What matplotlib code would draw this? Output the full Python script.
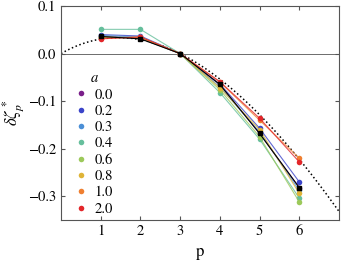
import numpy as np
import matplotlib
matplotlib.use("Agg")
import matplotlib.pyplot as plt

plt.rcParams['font.family'] = 'STIXGeneral'
plt.rcParams['mathtext.fontset'] = 'stix'

p = [1, 2, 3, 4, 5, 6]
a_labels = ['0.0', '0.2', '0.3', '0.4', '0.6', '0.8', '1.0', '2.0']
colors = ['#7a1f8a', '#3b44c9', '#4b8fd6', '#66bf9c', '#9cc95a', '#dfb437', '#ef7f30', '#e3262a']

dz_00 = [0.037, 0.032, 0.0, -0.065, -0.168, -0.282]
dz_02 = [0.040, 0.037, 0.0, -0.064, -0.157, -0.270]
dz_03 = [0.038, 0.035, 0.0, -0.070, -0.165, -0.288]
dz_04 = [0.051, 0.051, 0.0, -0.082, -0.180, -0.304]
dz_06 = [0.035, 0.033, 0.0, -0.076, -0.175, -0.312]
dz_08 = [0.034, 0.034, 0.0, -0.072, -0.160, -0.294]
dz_10 = [0.032, 0.035, 0.0, -0.060, -0.140, -0.220]
dz_20 = [0.031, 0.035, 0.0, -0.059, -0.136, -0.228]
series = [dz_00, dz_02, dz_03, dz_04, dz_06, dz_08, dz_10, dz_20]

# reference data (black squares)
dz_ref = [0.036, 0.031, 0.0, -0.065, -0.168, -0.282]

# She-Leveque model
pp = np.linspace(0, 7, 200)
sl = pp / 9 + 2 * (1 - (2 / 3) ** (pp / 3)) - pp / 3

fig = plt.figure(figsize=(3.41, 2.64), dpi=100)
ax = fig.add_axes([0.179, 0.167, 0.815, 0.81])

ax.axhline(0, color='#555555', lw=0.6, zorder=0)
ax.plot(pp, sl, ':', color='black', lw=1.1, zorder=1)

for vals, c, lab in zip(series, colors, a_labels):
    ax.plot(p, vals, '-', color=c, lw=0.8, alpha=0.8)
    ax.plot(p, vals, 'o', color=c, ms=4, mec='none', label=lab)
ax.plot(p, dz_ref, 's-', color='black', lw=0.8, ms=3)

ax.set_xlim(0, 7)
ax.set_ylim(-0.35, 0.1)
ax.set_xticks([1, 2, 3, 4, 5, 6])
ax.set_yticks([-0.3, -0.2, -0.1, 0.0, 0.1])
ax.tick_params(direction='in', top=True, right=True, labelsize=10.5, length=3,
               color='#555555')
for s in ax.spines.values():
    s.set_color('#555555')

ax.set_xlabel('p', fontsize=12)
ax.set_ylabel(r'$\delta\zeta^*_p$', fontsize=12, labelpad=1)

leg = ax.legend(title=r'$a$', loc='upper left', bbox_to_anchor=(0.02, 0.74),
                frameon=False, fontsize=10.5, title_fontsize=10.5, handlelength=0.6,
                handletextpad=0.6, labelspacing=0.2, borderpad=0.2)

fig.savefig('out.png', dpi=100)
